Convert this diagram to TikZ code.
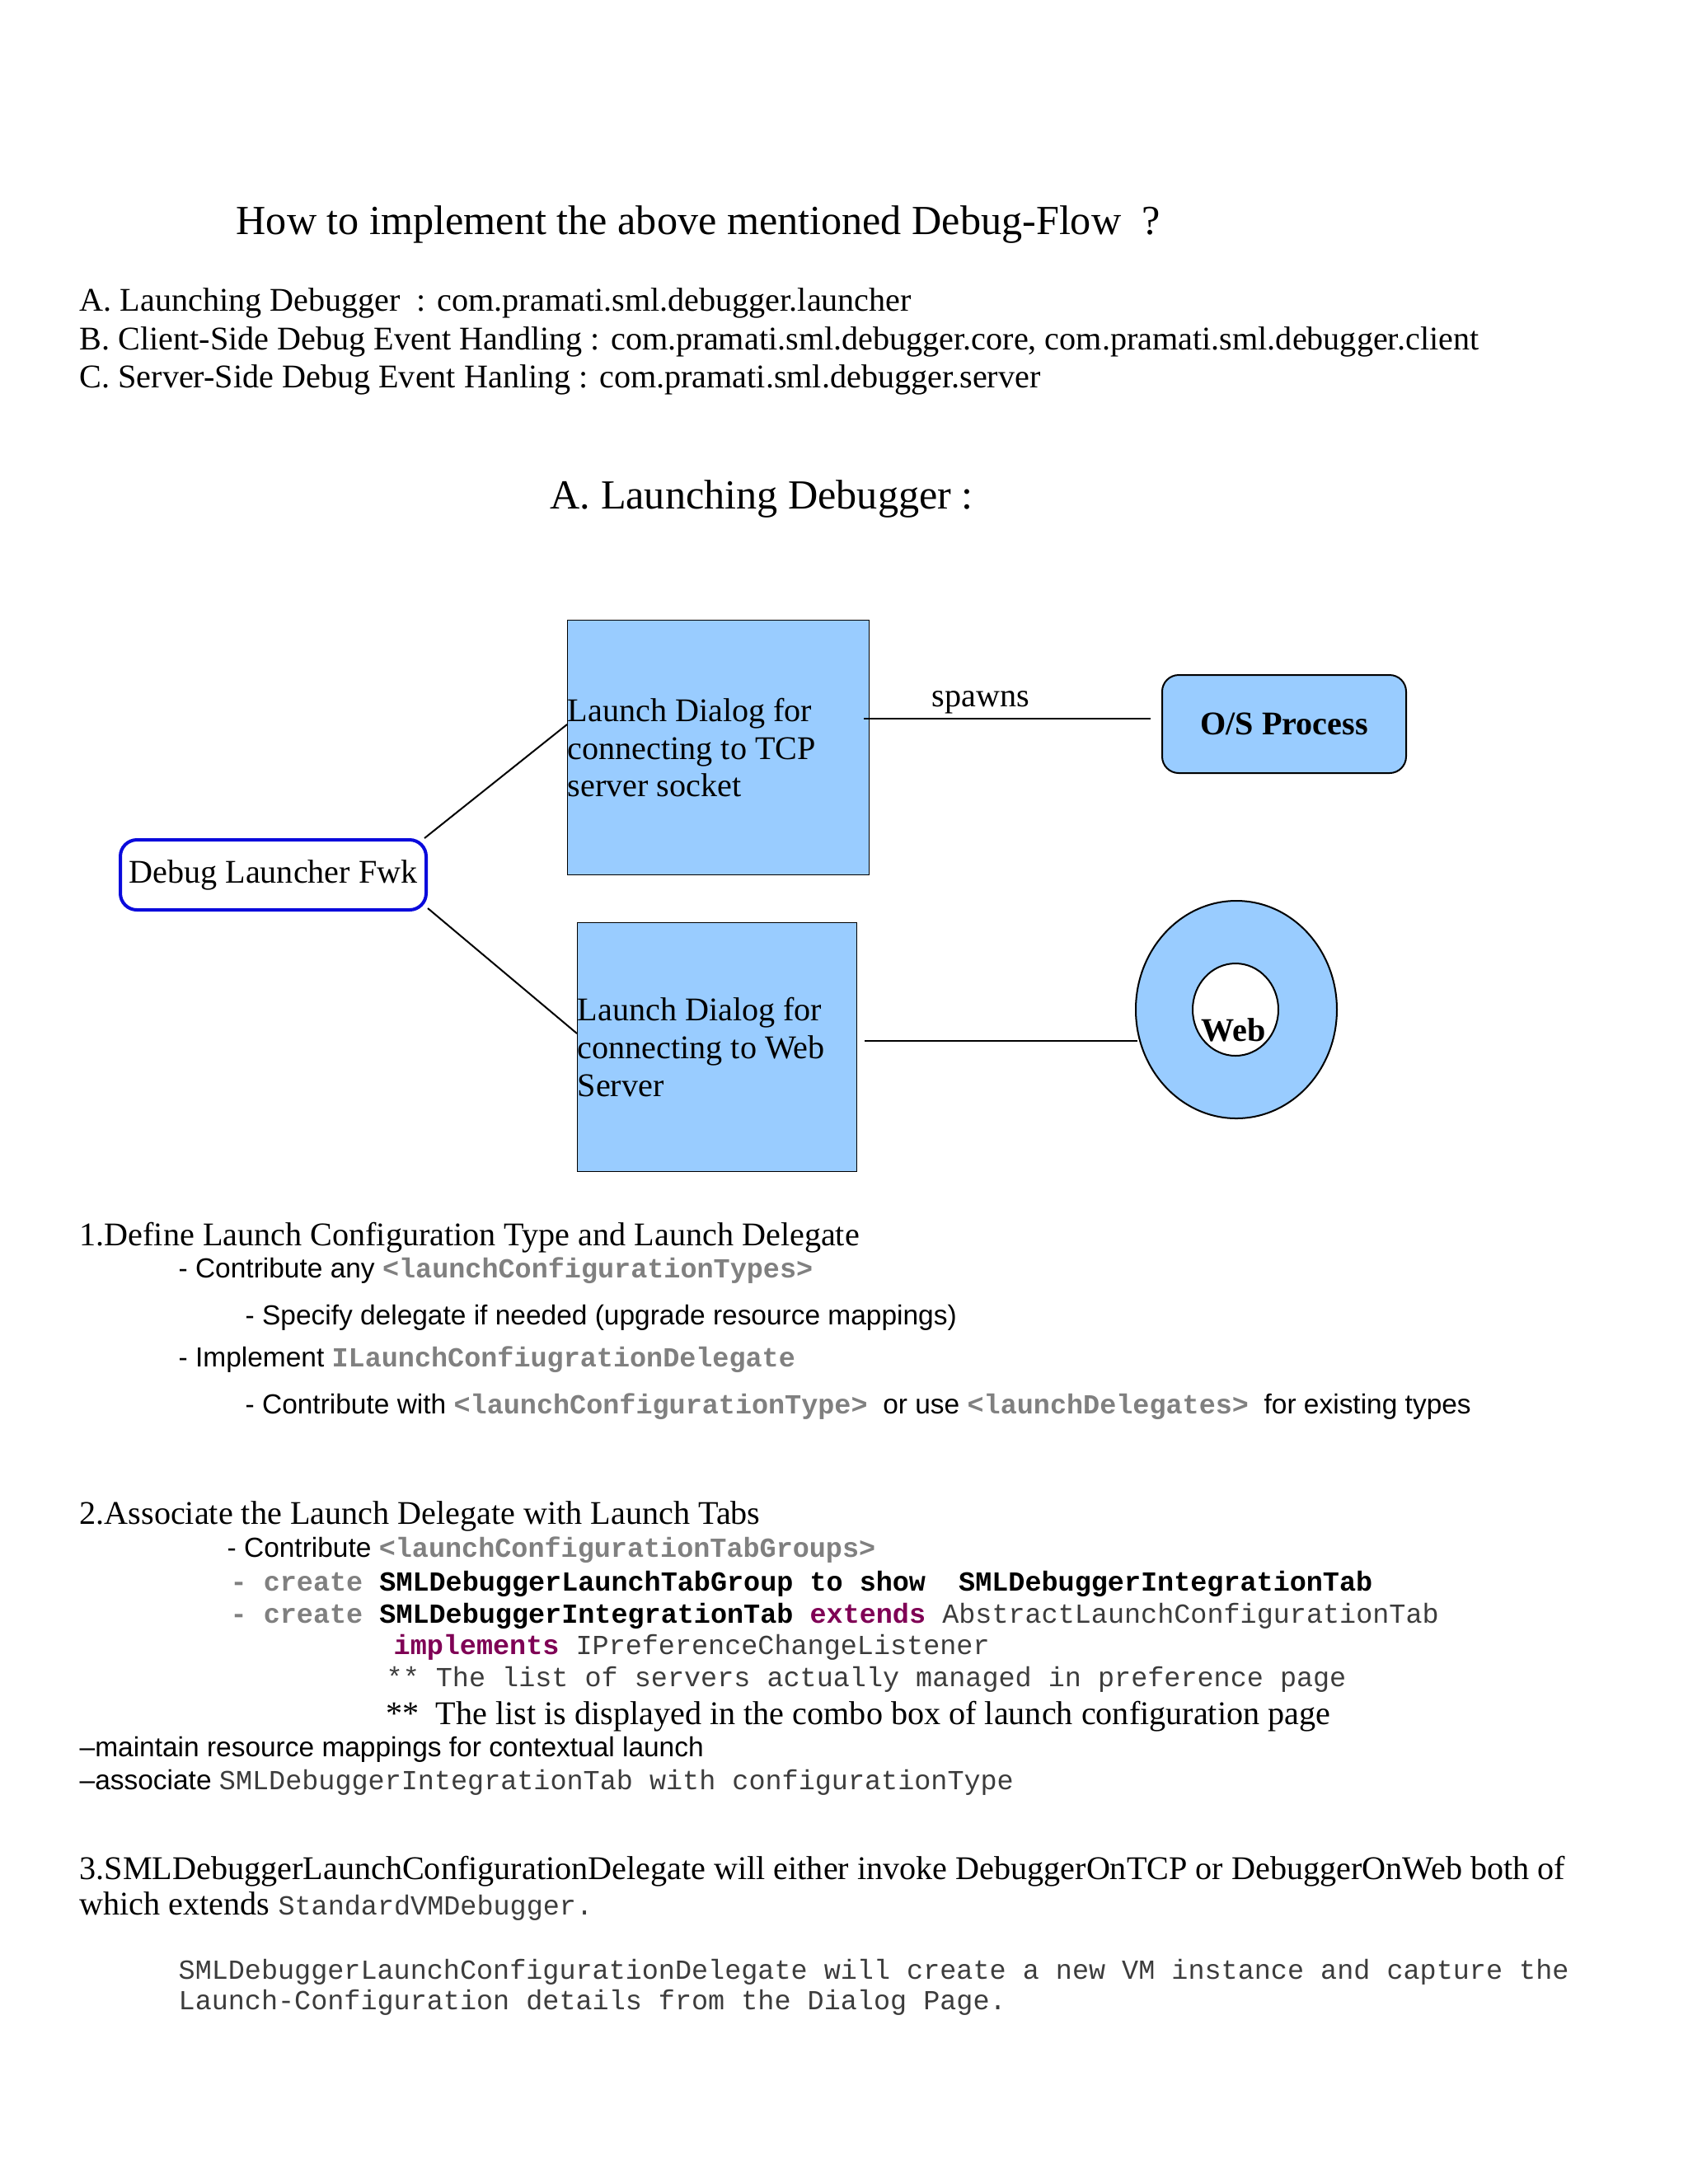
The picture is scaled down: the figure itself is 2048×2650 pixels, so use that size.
\documentclass[tikz,border=0pt]{standalone}
\usepackage{fontspec}
\setmainfont{Liberation Serif}
\setsansfont{Liberation Sans}
\setmonofont{Liberation Mono}
\usetikzlibrary{shapes.geometric}
\definecolor{boxblue}{HTML}{99CCFF}
\definecolor{fwkblue}{HTML}{0A0ADC}
\definecolor{codegrey}{HTML}{808080}
\definecolor{codedark}{HTML}{3C3C3C}
\definecolor{keyword}{HTML}{7F0055}
\def\pxu{0.2988pt}
% code snippets
\newcommand{\tagg}[1]{{\ttfamily\bfseries\color{codegrey}#1}}
\newcommand{\cbold}[1]{{\ttfamily\bfseries #1}}
\newcommand{\ckey}[1]{{\ttfamily\bfseries\color{keyword}#1}}
\newcommand{\cplain}[1]{{\ttfamily\color{codedark}#1}}

\begin{document}
\begin{tikzpicture}[x=\pxu,y=-\pxu,
    txt/.style={anchor=base west,inner sep=0pt,font=\fontsize{12}{14}\selectfont},
    big/.style={anchor=base west,inner sep=0pt,font=\fontsize{15}{18}\selectfont},
    sub/.style={anchor=base west,inner sep=0pt,font=\sffamily\fontsize{10}{12}\selectfont},
    code/.style={anchor=base west,inner sep=0pt,font=\ttfamily\fontsize{10}{12}\selectfont},
    dialog/.style={draw,fill=boxblue,inner sep=0pt,align=flush left,anchor=north west,
      font=\fontsize{12}{13.7}\selectfont},
    link/.style={draw,line width=0.6pt}]
    \useasboundingbox (0,0) rectangle (2048,2650);

    % Titel
    \node[big] (title) at (286,284) {How to implement the above mentioned Debug-Flow \ ?};
    \node[txt] (pkgA) at (96,377) {A. Launching Debugger \ : com.pramati.sml.debugger.launcher};
    \node[txt] (pkgB) at (96,424) {B. Client-Side Debug Event Handling : com.pramati.sml.debugger.core, com.pramati.sml.debugger.client};
    \node[txt] (pkgC) at (96,470) {C. Server-Side Debug Event Hanling : com.pramati.sml.debugger.server};
    \node[big] (head) at (667,617) {A. Launching Debugger :};

    % Diagramm
    \node[dialog,minimum width=366*\pxu,minimum height=309*\pxu,text width=366*\pxu]
      (tcp) at (688,752) {Launch Dialog for\\connecting to TCP\\server socket};
    \node[dialog,minimum width=339*\pxu,minimum height=302*\pxu,text width=339*\pxu]
      (web) at (700,1119) {Launch Dialog for\\connecting to Web\\Server};
    \node[draw=fwkblue,line width=1.2pt,fill=white,rounded corners=6pt,anchor=north west,
      minimum width=371*\pxu,minimum height=85*\pxu,inner sep=0pt,
      font=\fontsize{12}{14}\selectfont] (fwk) at (144,1017) {Debug Launcher Fwk};
    \node[draw,line width=0.6pt,fill=boxblue,rounded corners=6pt,anchor=north west,
      minimum width=296*\pxu,minimum height=119*\pxu,inner sep=0pt,
      font=\bfseries\fontsize{12}{14}\selectfont] (os) at (1409,818) {O/S Process};
    \node[draw,line width=0.6pt,fill=boxblue,ellipse,inner sep=0pt,
      minimum width=244*\pxu,minimum height=264*\pxu] (srv) at (1500,1225) {};
    \node[draw,line width=0.6pt,fill=white,ellipse,inner sep=0pt,
      minimum width=104*\pxu,minimum height=112*\pxu] (hole) at (1499,1225) {};
    \node[anchor=base,inner sep=0pt,font=\bfseries\fontsize{12}{14}\selectfont]
      (weblbl) at (1497,1263) {Web};

    \coordinate (tcpin) at (688,879);
    \coordinate (webin) at (700,1254);
    \coordinate (tcpout) at (1048,872);
    \coordinate (osin) at (1396,872);
    \coordinate (webout) at (1049,1263);
    \coordinate (srvin) at (1380,1263);

    \draw[link] (fwk.north east) ++(-4,0) -- (tcpin);
    \draw[link] (fwk.south east) ++(0,-4) -- (webin);
    \draw[link] (tcpout) -- (osin);
    \draw[link] (webout) -- (srvin);
    \node[anchor=base,inner sep=0pt,font=\fontsize{12}{14}\selectfont]
      (spawn) at (1190,857) {spawns};

    % Schritt 1
    \node[txt] (s1) at (96,1511) {1.Define Launch Configuration Type and Launch Delegate};
    \node[sub] (s1a) at (216,1550) {- Contribute any \tagg{<launchConfigurationTypes>}};
    \node[sub] (s1b) at (297,1607) {- Specify delegate if needed (upgrade resource mappings)};
    \node[sub] (s1c) at (216,1658) {- Implement \tagg{ILaunchConfiugrationDelegate}};
    \node[sub] (s1d) at (297,1715) {- Contribute with \tagg{<launchConfigurationType>} \ or use \tagg{<launchDelegates>} \ for existing types};

    % Schritt 2
    \node[txt] (s2) at (96,1849) {2.Associate the Launch Delegate with Launch Tabs};
    \node[sub] (s2a) at (275,1889) {- Contribute \tagg{<launchConfigurationTabGroups>}};
    \node[code] (s2b) at (279,1930) {\tagg{- create} \cbold{SMLDebuggerLaunchTabGroup to show \ SMLDebuggerIntegrationTab}};
    \node[code] (s2c) at (279,1969) {\tagg{- create} \cbold{SMLDebuggerIntegrationTab} \ckey{extends} \cplain{AbstractLaunchConfigurationTab}};
    \node[code] (s2d) at (477,2007) {\ckey{implements} \cplain{IPreferenceChangeListener}};
    \node[code] (s2e) at (468,2046) {\cplain{** The list of servers actually managed in preference page}};
    \node[txt] (s2f) at (468,2092) {** \ The list is displayed in the combo box of launch configuration page};
    \node[sub] (s2g) at (96,2131) {–maintain resource mappings for contextual launch};
    \node[sub] (s2h) at (96,2171) {–associate \cplain{SMLDebuggerIntegrationTab with configurationType}};

    % Schritt 3
    \node[txt] (s3) at (96,2280) {3.SMLDebuggerLaunchConfigurationDelegate will either invoke DebuggerOnTCP or DebuggerOnWeb both of};
    \node[txt] (s3b) at (96,2323) {which extends \cplain{\fontsize{10}{12}\selectfont StandardVMDebugger.}};
    \node[code] (note1) at (216,2401) {\cplain{SMLDebuggerLaunchConfigurationDelegate will create a new VM instance and capture the}};
    \node[code] (note2) at (216,2438) {\cplain{Launch-Configuration details from the Dialog Page.}};
\end{tikzpicture}
\end{document}
